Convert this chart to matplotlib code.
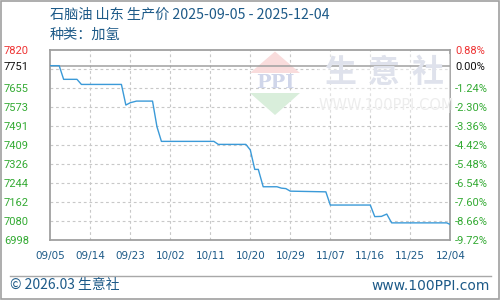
import matplotlib
matplotlib.use("Agg")
import matplotlib.pyplot as plt
import matplotlib.patches as mpatches
import numpy as np

plt.rcParams['font.family'] = ['Noto Sans CJK SC', 'DejaVu Sans']

title = "石脑油 山东 生产价 2025-09-05 - 2025-12-04"
subtitle = "种类：加氢"
footer_left = "© 2026.03 生意社"
footer_right = "www.100PPI.com"

# day offsets from 2025-09-05 and price values
days = [0, 2, 3, 6, 7, 16, 17, 18, 19.4, 23, 24, 25, 36.8, 37.8, 44, 45, 46, 46.8, 47.9,
        51, 52, 53, 54, 62, 63, 72, 73, 74.5, 75.7, 76.8, 89.2, 90]
prices = [7751, 7751, 7692, 7692, 7670, 7670, 7581, 7591, 7598, 7598, 7487, 7424, 7424,
          7411, 7411, 7387, 7303, 7303, 7228, 7228, 7222, 7220, 7209, 7206, 7149, 7149,
          7099, 7100, 7110, 7072, 7072, 7065]

x_ticks = [0, 9, 18, 27, 36, 45, 54, 63, 72, 81, 90]
x_labels = ["09/05", "09/14", "09/23", "10/02", "10/11", "10/20", "10/29", "11/07", "11/16", "11/25", "12/04"]

y_ticks = [6998, 7080.2, 7162.4, 7244.6, 7326.8, 7409, 7491.2, 7573.4, 7655.6, 7751, 7820]
y_labels = ["6998", "7080", "7162", "7244", "7326", "7409", "7491", "7573", "7655", "7751", "7820"]
pct_labels = ["-9.72%", "-8.66%", "-7.60%", "-6.54%", "-5.48%", "-4.42%", "-3.36%", "-2.30%", "-1.24%", "0.00%", "0.88%"]
grid_extra = [7737.8]
base = 7751

W, H = 500, 300
fig = plt.figure(figsize=(5, 3), dpi=100)
fig.patch.set_facecolor("white")

def fx(px):
    return px / W

def fy(py):
    return 1 - py / H

# outer border
fig.patches.append(mpatches.Rectangle((0.001, 0.002), 0.997, 0.995, transform=fig.transFigure,
                                      fill=False, edgecolor="#a0a0a0", lw=1.2))

ax = fig.add_axes([fx(50.3), fy(240), (450.3 - 50.3) / W, (240 - 49.7) / H])
ax.set_xlim(0, 90)
ax.set_ylim(6998, 7820)

# grid
for xv in x_ticks[1:-1]:
    ax.axvline(xv, color="#c8c8c8", lw=0.8, ls=(0, (2.5, 2.5)), zorder=1)
for yv in y_ticks[1:-2] + grid_extra:
    ax.axhline(yv, color="#c8c8c8", lw=0.8, ls=(0, (2.5, 2.5)), zorder=1)
ax.axhline(base, color="#a0a0a0", lw=1.1, zorder=4)

for s in ax.spines.values():
    s.set_color("#a0a0a0")
    s.set_linewidth(1.3)

# watermark
wm = dict(transform=fig.transFigure, zorder=3)
ax.add_patch(mpatches.Rectangle((fx(318), fy(113)), (450 - 318) / W, (113 - 54) / H, facecolor="white",
                                edgecolor="none", alpha=0.45, **wm))
ax.add_patch(mpatches.Polygon([(fx(275), fy(51.5)), (fx(250), fy(73)), (fx(300), fy(73))],
                              closed=True, facecolor="#f9dcdc", edgecolor="none", **wm))
ax.add_patch(mpatches.Polygon([(fx(250), fy(93)), (fx(300), fy(93)), (fx(275), fy(115))],
                              closed=True, facecolor="#d9eedb", edgecolor="none", **wm))
fig.text(fx(275), fy(83.5), "PPI", ha="center", va="center", fontsize=14, fontweight="bold",
         color="#d0d6ea", family="DejaVu Serif", zorder=3)
for cx, ch in zip([340, 384, 428], "生意社"):
    fig.text(fx(cx), fy(73), ch, ha="center", va="center", fontsize=23, fontweight="bold",
             color="#dfe2ec", zorder=3)
fig.text(fx(386), fy(105.5), "WWW.100PPI.COM", ha="center", va="center", fontsize=10.5,
         color="#ededed", family="DejaVu Sans", zorder=3)

ax.plot(days, prices, color="#3b9ad8", lw=1.0, zorder=5)

# ticks
ax.set_xticks(x_ticks)
ax.set_xticklabels(x_labels, fontsize=7.5, color="#1d5a88", family="DejaVu Sans")
ax.tick_params(axis="x", length=0, pad=8)
ax.set_yticks(y_ticks)
ax.set_yticklabels(y_labels, fontsize=8, family="Roboto")
ax.tick_params(axis="y", length=0, pad=15.5)
for lbl in ax.get_yticklabels():
    t = lbl.get_text()
    lbl.set_color("#ee3333" if t == "7820" else ("#111111" if t == "7751" else "#33aa33"))

ax2 = ax.twinx()
ax2.set_ylim(6998, 7820)
ax2.set_yticks(y_ticks)
ax2.set_yticklabels(pct_labels, fontsize=8, family="Roboto")
ax2.tick_params(axis="y", length=0, pad=3.5)
for lbl in ax2.get_yticklabels():
    t = lbl.get_text()
    lbl.set_color("#ee3333" if t == "0.88%" else ("#111111" if t == "0.00%" else "#33aa33"))
for s in ax2.spines.values():
    s.set_visible(False)

# titles
fig.text(fx(50), fy(15), title, ha="left", va="center", fontsize=10.2, color="#1d5a88")
fig.text(fx(50), fy(35), subtitle, ha="left", va="center", fontsize=10.2, color="#1d5a88")

# footer
fig.add_artist(plt.Line2D([fx(10), fx(491)], [fy(275.5), fy(275.5)], transform=fig.transFigure,
                          color="#a8a8a8", lw=1.0))
fig.text(fx(10), fy(285.5), footer_left, ha="left", va="center", fontsize=10, color="#1d5a88")
fig.text(fx(490), fy(285.5), footer_right, ha="right", va="center", fontsize=10, color="#1d5a88",
         family="DejaVu Sans")

fig.savefig("out.png", dpi=100, facecolor="white")
